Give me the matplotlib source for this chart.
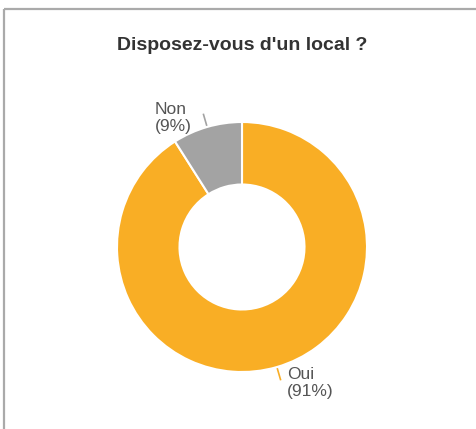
import matplotlib
matplotlib.use("Agg")
import matplotlib.pyplot as plt
import numpy as np

title = "Disposez-vous d'un local ?"
categories = ["Oui", "Non"]
values = [91, 9]
colors = ["#F9AE25", "#A3A3A3"]

W, H = 477, 429
fig = plt.figure(figsize=(W / 100, H / 100), dpi=100)
ax = fig.add_axes([0, 0, 1, 1])


def Y(py):
    return H - py


cx, cy, R = 242, Y(247), 125
wedges, _ = ax.pie(values, colors=colors, startangle=90, counterclock=False,
                   center=(cx, cy), radius=R, frame=True,
                   wedgeprops=dict(width=R * 0.5, edgecolor="white", linewidth=1.5))
ax.set_xlim(0, W)
ax.set_ylim(0, H)
ax.set_aspect("equal")
ax.axis("off")

font = "Liberation Sans"
label_pos = {"Non": (155, 118), "Oui": (287, 383)}
for w, cat, v, col in zip(wedges, categories, values, colors):
    mid = np.deg2rad((w.theta1 + w.theta2) / 2)
    dx, dy = np.cos(mid), np.sin(mid)
    ax.plot([cx + dx * 127, cx + dx * 138], [cy + dy * 127, cy + dy * 138],
            color=col, lw=1.2)
    pct = round(100 * v / sum(values))
    x, y = label_pos[cat]
    ax.text(x, Y(y), f"{cat}\n({pct}%)", ha="left", va="center", fontsize=12.5,
            family=font, color="#555555", linespacing=1.15)

ax.text(242, Y(45), title, ha="center", va="center", fontsize=14,
        fontweight="bold", family=font, color="#333333")

# frame lines
ax.plot([4.5, 4.5], [Y(8.5), 0], color="#AAAAAA", lw=1.6, solid_capstyle="butt")
ax.plot([4.5, W], [Y(8.5), Y(8.5)], color="#AAAAAA", lw=1.6, solid_capstyle="butt")

fig.savefig("out.png", dpi=100, facecolor="white")
